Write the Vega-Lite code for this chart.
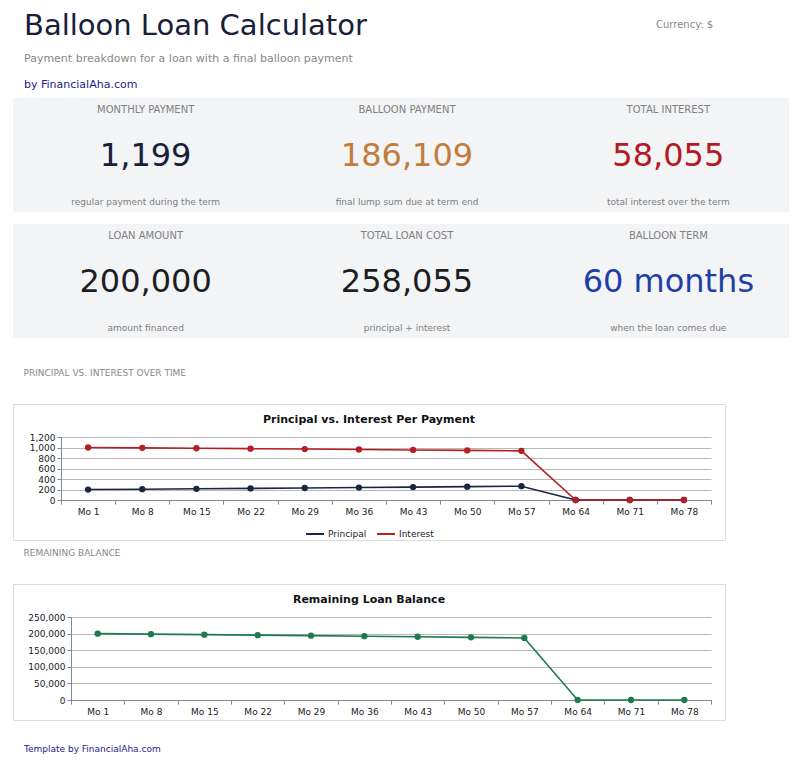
{
  "$schema": "https://vega.github.io/schema/vega-lite/v6.json",
  "background": "white",
  "padding": {"left": 12, "top": 12, "right": 0, "bottom": 0},
  "spacing": 7,
  "resolve": {"scale": {"color": "independent"}, "legend": {"color": "independent"}},
  "datasets": {
    "tiles": [
      {"row": 1, "col": 1, "label": "MONTHLY PAYMENT", "value": "1,199", "caption": "regular payment during the term"},
      {"row": 1, "col": 2, "label": "BALLOON PAYMENT", "value": "186,109", "caption": "final lump sum due at term end"},
      {"row": 1, "col": 3, "label": "TOTAL INTEREST", "value": "58,055", "caption": "total interest over the term"},
      {"row": 2, "col": 1, "label": "LOAN AMOUNT", "value": "200,000", "caption": "amount financed"},
      {"row": 2, "col": 2, "label": "TOTAL LOAN COST", "value": "258,055", "caption": "principal + interest"},
      {"row": 2, "col": 3, "label": "BALLOON TERM", "value": "60 months", "caption": "when the loan comes due"}
    ],
    "payments": [
      {"month": "Mo 1", "series": "Principal", "amount": 199.10},
      {"month": "Mo 8", "series": "Principal", "amount": 206.17},
      {"month": "Mo 15", "series": "Principal", "amount": 213.50},
      {"month": "Mo 22", "series": "Principal", "amount": 221.08},
      {"month": "Mo 29", "series": "Principal", "amount": 228.94},
      {"month": "Mo 36", "series": "Principal", "amount": 237.08},
      {"month": "Mo 43", "series": "Principal", "amount": 245.50},
      {"month": "Mo 50", "series": "Principal", "amount": 254.22},
      {"month": "Mo 57", "series": "Principal", "amount": 263.25},
      {"month": "Mo 64", "series": "Principal", "amount": 0},
      {"month": "Mo 71", "series": "Principal", "amount": 0},
      {"month": "Mo 78", "series": "Principal", "amount": 0},
      {"month": "Mo 1", "series": "Interest", "amount": 1000.00},
      {"month": "Mo 8", "series": "Interest", "amount": 992.93},
      {"month": "Mo 15", "series": "Interest", "amount": 985.60},
      {"month": "Mo 22", "series": "Interest", "amount": 978.02},
      {"month": "Mo 29", "series": "Interest", "amount": 970.16},
      {"month": "Mo 36", "series": "Interest", "amount": 962.02},
      {"month": "Mo 43", "series": "Interest", "amount": 953.60},
      {"month": "Mo 50", "series": "Interest", "amount": 944.88},
      {"month": "Mo 57", "series": "Interest", "amount": 935.85},
      {"month": "Mo 64", "series": "Interest", "amount": 0},
      {"month": "Mo 71", "series": "Interest", "amount": 0},
      {"month": "Mo 78", "series": "Interest", "amount": 0}
    ],
    "balance": [
      {"month": "Mo 1", "balance": 199801},
      {"month": "Mo 8", "balance": 198379},
      {"month": "Mo 15", "balance": 196907},
      {"month": "Mo 22", "balance": 195382},
      {"month": "Mo 29", "balance": 193803},
      {"month": "Mo 36", "balance": 192168},
      {"month": "Mo 43", "balance": 190475},
      {"month": "Mo 50", "balance": 188722},
      {"month": "Mo 57", "balance": 186906},
      {"month": "Mo 64", "balance": 0},
      {"month": "Mo 71", "balance": 0},
      {"month": "Mo 78", "balance": 0}
    ]
  },
  "vconcat": [
    {
      "hconcat": [
        {
          "width": 643,
          "height": 1,
          "data": {"values": []},
          "mark": "rect",
          "title": {
            "text": "Balloon Loan Calculator",
            "subtitle": "Payment breakdown for a loan with a final balloon payment",
            "anchor": "start",
            "dx": 11,
            "fontSize": 29,
            "fontWeight": "normal",
            "color": "#182038",
            "subtitleFontSize": 11,
            "subtitleColor": "#888888",
            "subtitlePadding": 12,
            "offset": 7
          }
        },
        {
          "width": 100,
          "height": 1,
          "data": {"values": []},
          "mark": "rect",
          "title": {
            "text": "Currency: $",
            "anchor": "start",
            "fontSize": 10,
            "fontWeight": "normal",
            "color": "#888888",
            "offset": 41
          }
        }
      ],
      "spacing": 0,
      "bounds": "flush"
    },
    {
      "width": 776,
      "height": 263,
      "title": {
        "text": "by FinancialAha.com",
        "anchor": "start",
        "dx": 11,
        "fontSize": 11,
        "fontWeight": "normal",
        "color": "#1c1c8a",
        "offset": 8
      },
      "data": {"name": "tiles"},
      "encoding": {
        "y": {
          "field": "row",
          "type": "ordinal",
          "scale": {"range": [0, 240], "paddingInner": 0.0952, "paddingOuter": 0},
          "axis": null
        }
      },
      "layer": [
        {"mark": {"type": "rect", "color": "#f3f4f6"}},
        {
          "mark": {"type": "text", "dy": -45, "fontSize": 10, "color": "#808080"},
          "encoding": {
            "x": {"field": "col", "type": "ordinal", "scale": {"type": "band", "range": [2, 786]}, "axis": null},
            "text": {"field": "label"}
          }
        },
        {
          "mark": {"type": "text", "fontSize": 32, "dy": 1},
          "encoding": {
            "x": {"field": "col", "type": "ordinal", "scale": {"type": "band", "range": [2, 786]}, "axis": null},
            "text": {"field": "value"},
            "color": {
              "field": "label",
              "type": "nominal",
              "scale": {
                "domain": ["MONTHLY PAYMENT", "BALLOON PAYMENT", "TOTAL INTEREST", "LOAN AMOUNT", "TOTAL LOAN COST", "BALLOON TERM"],
                "range": ["#182038", "#c27d3c", "#b5191f", "#1d1d22", "#1d1d22", "#1f3ea8"]
              },
              "legend": null
            }
          }
        },
        {
          "mark": {"type": "text", "dy": 47, "fontSize": 9, "color": "#808080"},
          "encoding": {
            "x": {"field": "col", "type": "ordinal", "scale": {"type": "band", "range": [2, 786]}, "axis": null},
            "text": {"field": "caption"}
          }
        }
      ]
    },
    {
      "title": {
        "text": "PRINCIPAL VS. INTEREST OVER TIME",
        "anchor": "start",
        "dx": 11,
        "fontSize": 9,
        "fontWeight": "normal",
        "color": "#888888",
        "offset": 26
      },
      "vconcat": [
        {
          "width": 712,
          "height": 136,
          "view": {"stroke": "#dcdcdc"},
          "title": {
            "text": "Principal vs. Interest Per Payment",
            "anchor": "middle",
            "fontSize": 11,
            "fontWeight": "bold",
            "color": "#111111",
            "offset": -21
          },
          "data": {"name": "payments"},
          "mark": {"type": "line", "strokeWidth": 1.6, "point": {"filled": true, "size": 40}},
          "encoding": {
            "x": {
              "field": "month",
              "type": "ordinal",
              "sort": null,
              "scale": {"type": "band", "range": [48, 698], "paddingInner": 0, "paddingOuter": 0},
              "axis": {
                "title": null,
                "offset": -40,
                "labelAngle": 0,
                "tickBand": "extent",
                "tickSize": 4,
                "labelPadding": 3,
                "labelFontSize": 9,
                "labelColor": "#222222",
                "domainColor": "#888888",
                "tickColor": "#888888",
                "grid": false
              }
            },
            "y": {
              "field": "amount",
              "type": "quantitative",
              "scale": {"domain": [0, 1200], "range": [96, 33], "nice": false},
              "axis": {
                "title": null,
                "offset": -48,
                "values": [0, 200, 400, 600, 800, 1000, 1200],
                "format": ",d",
                "tickSize": 4,
                "labelPadding": 2,
                "labelFontSize": 9,
                "labelColor": "#222222",
                "domainColor": "#888888",
                "tickColor": "#888888",
                "gridColor": "#b8b8b8"
              }
            },
            "color": {
              "field": "series",
              "type": "nominal",
              "scale": {"domain": ["Principal", "Interest"], "range": ["#1b2541", "#b41f24"]},
              "legend": {
                "orient": "bottom",
                "direction": "horizontal",
                "title": null,
                "offset": -17,
                "labelFontSize": 9,
                "labelColor": "#222222",
                "labelOffset": 3,
                "columnPadding": 6,
                "symbolType": "stroke",
                "symbolStrokeWidth": 2,
                "symbolSize": 320
              }
            }
          }
        }
      ]
    },
    {
      "title": {
        "text": "REMAINING BALANCE",
        "anchor": "start",
        "dx": 11,
        "fontSize": 9,
        "fontWeight": "normal",
        "color": "#888888",
        "offset": 26
      },
      "vconcat": [
        {
          "width": 712,
          "height": 136,
          "view": {"stroke": "#dcdcdc"},
          "title": {
            "text": "Remaining Loan Balance",
            "anchor": "middle",
            "fontSize": 11,
            "fontWeight": "bold",
            "color": "#111111",
            "offset": -21
          },
          "data": {"name": "balance"},
          "mark": {"type": "line", "strokeWidth": 1.6, "color": "#1b7a4e", "point": {"filled": true, "size": 40, "color": "#1b7a4e"}},
          "encoding": {
            "x": {
              "field": "month",
              "type": "ordinal",
              "sort": null,
              "scale": {"type": "band", "range": [58, 698], "paddingInner": 0, "paddingOuter": 0},
              "axis": {
                "title": null,
                "offset": -20,
                "labelAngle": 0,
                "tickBand": "extent",
                "tickSize": 4,
                "labelPadding": 3,
                "labelFontSize": 9,
                "labelColor": "#222222",
                "domainColor": "#888888",
                "tickColor": "#888888",
                "grid": false
              }
            },
            "y": {
              "field": "balance",
              "type": "quantitative",
              "scale": {"domain": [0, 250000], "range": [116, 33], "nice": false},
              "axis": {
                "title": null,
                "offset": -58,
                "values": [0, 50000, 100000, 150000, 200000, 250000],
                "format": ",d",
                "tickSize": 4,
                "labelPadding": 2,
                "labelFontSize": 9,
                "labelColor": "#222222",
                "domainColor": "#888888",
                "tickColor": "#888888",
                "gridColor": "#b8b8b8"
              }
            }
          }
        }
      ]
    },
    {
      "width": 776,
      "height": 1,
      "data": {"values": []},
      "mark": "rect",
      "title": {
        "text": "Template by FinancialAha.com",
        "orient": "bottom",
        "anchor": "start",
        "dx": 11,
        "fontSize": 9,
        "fontWeight": "normal",
        "color": "#1c1c8a",
        "offset": 16
      }
    }
  ],
  "config": {
    "font": "DejaVu Sans",
    "view": {"stroke": null},
    "legend": {"layout": {"bottom": {"anchor": "middle"}}}
  }
}
